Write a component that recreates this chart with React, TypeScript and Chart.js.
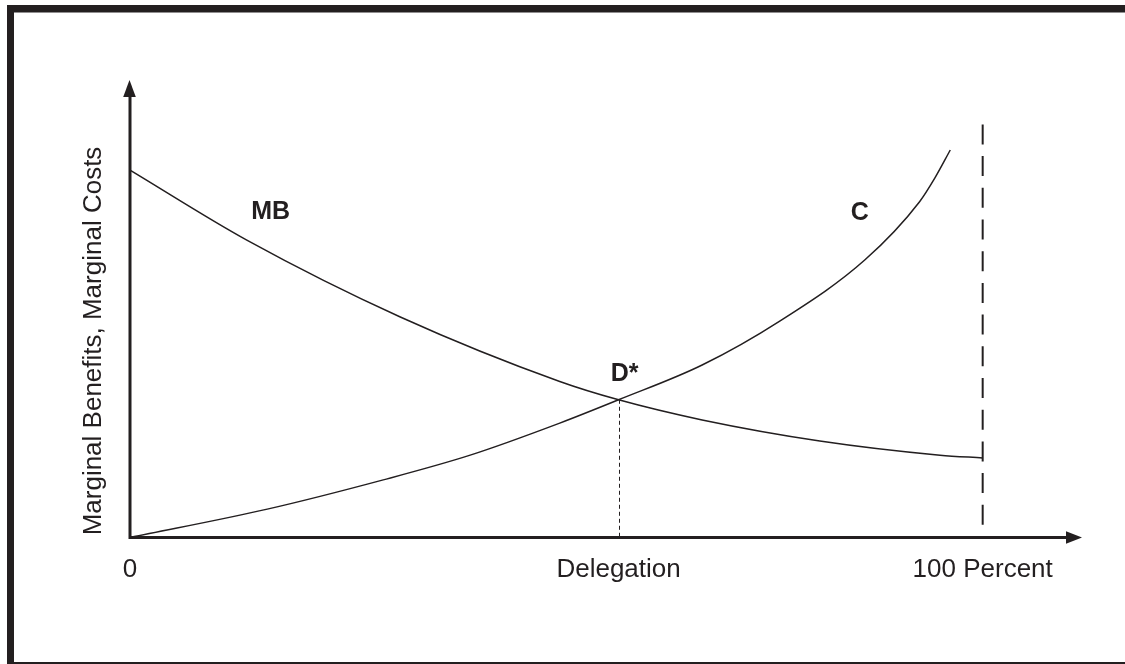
import React, { useEffect, useRef } from "react";
import { Chart, registerables } from "chart.js";

Chart.register(...registerables);

// Data (x in percent of delegation, y in arbitrary units)
const mbX = [0, 13.7, 31.7, 50.4, 57.3, 67.1, 80.9, 95.0, 100];
const mbValues = [80.3, 65.0, 48.2, 34.1, 30.1, 25.7, 21.1, 18.0, 17.4];
const cX = [0, 16.1, 29.7, 39.9, 50.4, 57.3, 67.1, 76.2, 86.2, 92.6, 94.4, 96.2];
const cValues = [0, 6.2, 12.6, 18.0, 25.0, 30.1, 37.7, 47.3, 60.7, 73.4, 78.6, 84.7];
const xTickValues = [0, 57.3, 100];
const xTickLabels = ["0", "Delegation", "100 Percent"];
const yTitle = "Marginal Benefits, Marginal Costs";
const curveNames = ["MB", "C", "D*"];
const equilibrium = { x: 57.3, y: 30.1 };
const fullDelegationTop = 90.4;

const INK = "#231f20";

const decor = {
  id: "decor",
  beforeDatasetsDraw(chart: any) {
    const { ctx, scales } = chart;
    const xs = scales.x;
    const ys = scales.y;
    const ox = xs.getPixelForValue(0);
    const oy = ys.getPixelForValue(0);
    ctx.save();
    // frame
    ctx.fillStyle = INK;
    ctx.fillRect(7, 5, 1125 - 7, 7.5);
    ctx.fillRect(7, 5, 7, 664 - 5);
    ctx.fillRect(7, 662, 1125 - 7, 2);

    // dashed line at 100 percent
    const px100 = xs.getPixelForValue(100);
    ctx.strokeStyle = INK;
    ctx.lineWidth = 2;
    ctx.setLineDash([20, 11.7]);
    ctx.lineDashOffset = 20;
    ctx.beginPath();
    ctx.moveTo(px100, oy - 1);
    ctx.lineTo(px100, ys.getPixelForValue(fullDelegationTop));
    ctx.stroke();

    // dotted line at equilibrium
    ctx.lineWidth = 1;
    ctx.setLineDash([4, 3]);
    ctx.lineDashOffset = 0;
    ctx.beginPath();
    const ex = Math.round(xs.getPixelForValue(equilibrium.x)) + 0.5;
    ctx.moveTo(ex, ys.getPixelForValue(equilibrium.y));
    ctx.lineTo(ex, oy);
    ctx.stroke();
    ctx.setLineDash([]);

    // axes
    const topTip = chart.chartArea.top;
    const rightTip = chart.chartArea.right - 3;
    ctx.lineWidth = 3;
    ctx.beginPath();
    ctx.moveTo(ox, oy + 1.5);
    ctx.lineTo(ox, topTip + 16);
    ctx.moveTo(ox - 1.5, oy);
    ctx.lineTo(rightTip - 15, oy);
    ctx.stroke();
    ctx.beginPath();
    ctx.moveTo(ox - 0.5, topTip);
    ctx.lineTo(ox - 6.8, topTip + 17);
    ctx.lineTo(ox + 5.8, topTip + 17);
    ctx.closePath();
    ctx.fill();
    ctx.beginPath();
    ctx.moveTo(rightTip, oy);
    ctx.lineTo(rightTip - 16, oy - 6.3);
    ctx.lineTo(rightTip - 16, oy + 6.3);
    ctx.closePath();
    ctx.fill();
    ctx.restore();
  },
  afterDatasetsDraw(chart: any) {
    const { ctx, scales } = chart;
    const xs = scales.x;
    const ys = scales.y;
    ctx.save();
    ctx.fillStyle = INK;
    ctx.font = "26px 'Liberation Sans', Arial, sans-serif";
    ctx.textAlign = "center";
    ctx.textBaseline = "alphabetic";
    xTickValues.forEach((v, i) => {
      ctx.fillText(xTickLabels[i], xs.getPixelForValue(v), 577);
    });
    // y title
    ctx.save();
    ctx.translate(101, 341);
    ctx.rotate(-Math.PI / 2);
    ctx.fillText(yTitle, 0, 0);
    ctx.restore();

    // curve labels
    ctx.font = "bold 25px 'Liberation Sans', Arial, sans-serif";
    ctx.textBaseline = "alphabetic";
    const labelPos = [
      { x: 16.5, y: 71.6 },
      { x: 85.6, y: 71.4 },
      { x: 58.0, y: 36.2 },
    ];
    curveNames.forEach((n, i) => {
      const p = labelPos[i];
      ctx.fillText(n, xs.getPixelForValue(p.x), ys.getPixelForValue(p.y) + 9.5);
    });
    ctx.restore();
  },
};

export default function App() {
  const ref = useRef<HTMLCanvasElement | null>(null);
  useEffect(() => {
    if (!ref.current) return;
    const chart = new Chart(ref.current, {
      type: "line",
      data: {
        datasets: [
          {
            label: "MB",
            data: mbX.map((x, i) => ({ x, y: mbValues[i] })),
            borderColor: INK,
            borderWidth: 1.5,
            pointRadius: 0,
            fill: false,
            cubicInterpolationMode: "monotone",
          },
          {
            label: "C",
            data: cX.map((x, i) => ({ x, y: cValues[i] })),
            borderColor: INK,
            borderWidth: 1.5,
            pointRadius: 0,
            fill: false,
            cubicInterpolationMode: "monotone",
          },
        ],
      },
      options: {
        animation: false,
        responsive: false,
        devicePixelRatio: 1,
        layout: { padding: { left: 130, right: 40, top: 80, bottom: 126.5 } },
        scales: {
          x: { type: "linear", min: 0, max: 112, display: false },
          y: { type: "linear", min: 0, max: 100, display: false },
        },
        plugins: { legend: { display: false }, tooltip: { enabled: false } },
        events: [],
      },
      plugins: [decor],
    });
    return () => chart.destroy();
  }, []);
  return (
    <div style={{ position: "fixed", left: 0, top: 0, width: 1125, height: 664, background: "#fff" }}>
      <canvas ref={ref} width={1125} height={664} style={{ display: "block" }} />
    </div>
  );
}
